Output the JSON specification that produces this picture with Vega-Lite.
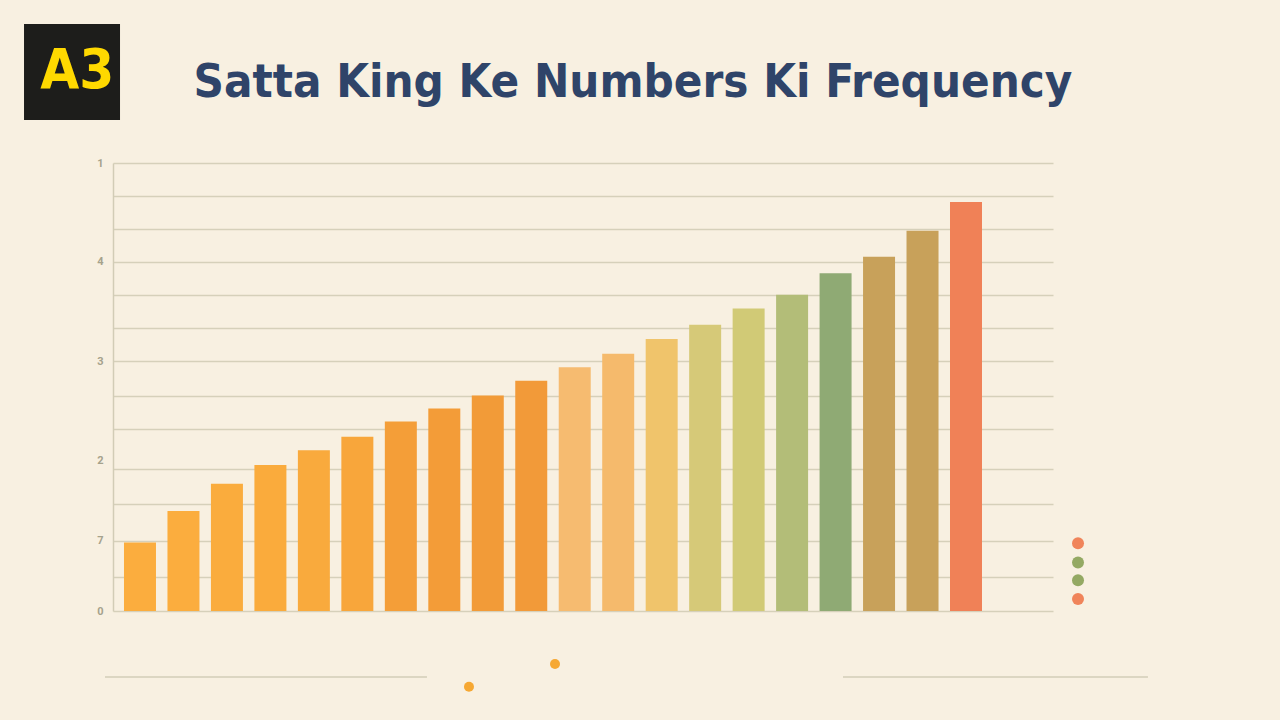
{
  "$schema": "https://vega.github.io/schema/vega-lite/v6.json",
  "width": 940,
  "height": 448,
  "autosize": {"type": "none"},
  "padding": {"left": 113, "top": 163, "right": 227, "bottom": 109},
  "background": "#f8f0e1",
  "config": {"view": {"stroke": null}},
  "title": {
    "text": "Satta King Ke Numbers Ki Frequency",
    "font": "DejaVu Sans Condensed, DejaVu Sans, sans-serif",
    "fontSize": 47,
    "fontWeight": "bold",
    "color": "#2f4469",
    "anchor": "middle",
    "frame": "group",
    "dx": 50,
    "offset": -120,
    "baseline": "alphabetic"
  },
  "datasets": {
    "freq": [
      {"number": "1", "frequency": 15.3},
      {"number": "2", "frequency": 22.3},
      {"number": "3", "frequency": 28.4},
      {"number": "4", "frequency": 32.6},
      {"number": "5", "frequency": 35.9},
      {"number": "6", "frequency": 38.9},
      {"number": "7", "frequency": 42.3},
      {"number": "8", "frequency": 45.2},
      {"number": "9", "frequency": 48.1},
      {"number": "10", "frequency": 51.4},
      {"number": "11", "frequency": 54.4},
      {"number": "12", "frequency": 57.4},
      {"number": "13", "frequency": 60.7},
      {"number": "14", "frequency": 63.9},
      {"number": "15", "frequency": 67.5},
      {"number": "16", "frequency": 70.6},
      {"number": "17", "frequency": 75.4},
      {"number": "18", "frequency": 79.1},
      {"number": "19", "frequency": 84.9},
      {"number": "20", "frequency": 91.3}
    ],
    "one": [{"brand": "A3"}]
  },
  "layer": [
    {
      "data": {"name": "freq"},
      "mark": {"type": "bar"},
      "encoding": {
        "x": {
          "field": "number",
          "type": "nominal",
          "sort": null,
          "scale": {"paddingInner": 0.264, "paddingOuter": 0.943, "align": 0.134, "round": false},
          "axis": {"labels": false, "ticks": false, "title": null, "domain": false}
        },
        "y": {
          "field": "frequency",
          "type": "quantitative",
          "scale": {"domain": [0, 100], "nice": false},
          "axis": {
            "title": null,
            "values": [0, 7.7, 15.7, 23.9, 31.8, 33.7, 40.6, 48.1, 55.8, 63.1, 70.5, 78, 85.3, 92.7, 100],
            "tickCount": 30,
            "grid": true,
            "gridColor": "#d6d0ba",
            "gridWidth": 1.5,
            "gridOpacity": {"condition": {"test": "datum.value == 33.7", "value": 0}, "value": 1},
            "ticks": false,
            "domain": true,
            "domainColor": "#d2ccb6",
            "domainWidth": 1.5,
            "labelExpr": "datum.value == 100 ? '1' : datum.value == 78 ? '4' : datum.value == 55.8 ? '3' : datum.value == 33.7 ? '2' : datum.value == 15.7 ? '7' : datum.value == 0 ? '0' : ''",
            "labelColor": "#a6a28c",
            "labelFont": "Roboto",
            "labelFontWeight": "bold",
            "labelFontSize": 11,
            "labelPadding": 10,
            "labelOverlap": false,
            "labelBound": false,
            "labelFlush": false
          }
        },
        "color": {
          "field": "number",
          "type": "nominal",
          "sort": null,
          "scale": {
            "domain": ["1","2","3","4","5","6","7","8","9","10","11","12","13","14","15","16","17","18","19","20"],
            "range": ["#fbad3e","#fbad3e","#faac3d","#faab3c","#f9aa3d","#f8a63b","#f49e38","#f39c38","#f29b38","#f29a39","#f6bb70","#f5ba6c","#f0c46b","#d6c978","#d1ca76","#b3bd78","#8faa74","#c8a15a","#c8a15a","#f08157"]
          },
          "legend": null
        }
      }
    },
    {
      "data": {"name": "one"},
      "mark": {"type": "point", "shape": "square", "size": 9216, "filled": true, "fill": "#1d1d1b", "opacity": 1, "strokeWidth": 0, "clip": false},
      "encoding": {
        "x": {"datum": -4.36, "type": "quantitative", "scale": {"domain": [0, 100]}, "axis": null},
        "y": {"datum": 120.3, "type": "quantitative"}
      }
    },
    {
      "data": {"name": "one"},
      "mark": {"type": "text", "font": "DejaVu Sans Condensed, DejaVu Sans, sans-serif", "fontWeight": "bold", "fontSize": 56, "fill": "#ffd900", "align": "center", "baseline": "middle", "clip": false},
      "encoding": {
        "x": {"datum": -3.8, "type": "quantitative", "scale": {"domain": [0, 100]}, "axis": null},
        "y": {"datum": 120.5, "type": "quantitative"},
        "text": {"field": "brand"}
      }
    },
    {
      "data": {"name": "one"},
      "mark": {"type": "point", "shape": "circle", "size": 144, "filled": true, "fill": "#f0845a", "opacity": 1, "strokeWidth": 0, "clip": false},
      "encoding": {
        "x": {"datum": 102.66, "type": "quantitative", "scale": {"domain": [0, 100]}, "axis": null},
        "y": {"datum": 15.1, "type": "quantitative"}
      }
    },
    {
      "data": {"name": "one"},
      "mark": {"type": "point", "shape": "circle", "size": 144, "filled": true, "fill": "#94a963", "opacity": 1, "strokeWidth": 0, "clip": false},
      "encoding": {
        "x": {"datum": 102.66, "type": "quantitative", "scale": {"domain": [0, 100]}, "axis": null},
        "y": {"datum": 10.85, "type": "quantitative"}
      }
    },
    {
      "data": {"name": "one"},
      "mark": {"type": "point", "shape": "circle", "size": 144, "filled": true, "fill": "#94a963", "opacity": 1, "strokeWidth": 0, "clip": false},
      "encoding": {
        "x": {"datum": 102.66, "type": "quantitative", "scale": {"domain": [0, 100]}, "axis": null},
        "y": {"datum": 6.85, "type": "quantitative"}
      }
    },
    {
      "data": {"name": "one"},
      "mark": {"type": "point", "shape": "circle", "size": 144, "filled": true, "fill": "#f0845a", "opacity": 1, "strokeWidth": 0, "clip": false},
      "encoding": {
        "x": {"datum": 102.66, "type": "quantitative", "scale": {"domain": [0, 100]}, "axis": null},
        "y": {"datum": 2.7, "type": "quantitative"}
      }
    },
    {
      "data": {"name": "one"},
      "mark": {"type": "point", "shape": "circle", "size": 100, "filled": true, "fill": "#f6a833", "opacity": 1, "strokeWidth": 0, "clip": false},
      "encoding": {
        "x": {"datum": 47.02, "type": "quantitative", "scale": {"domain": [0, 100]}, "axis": null},
        "y": {"datum": -11.83, "type": "quantitative"}
      }
    },
    {
      "data": {"name": "one"},
      "mark": {"type": "point", "shape": "circle", "size": 100, "filled": true, "fill": "#f6a833", "opacity": 1, "strokeWidth": 0, "clip": false},
      "encoding": {
        "x": {"datum": 37.87, "type": "quantitative", "scale": {"domain": [0, 100]}, "axis": null},
        "y": {"datum": -16.9, "type": "quantitative"}
      }
    },
    {
      "data": {"name": "one"},
      "mark": {"type": "rule", "stroke": "#dcd6c2", "strokeWidth": 2, "clip": false},
      "encoding": {
        "x": {"datum": -0.85, "type": "quantitative", "scale": {"domain": [0, 100]}, "axis": null},
        "x2": {"datum": 33.4},
        "y": {"datum": -14.73, "type": "quantitative"}
      }
    },
    {
      "data": {"name": "one"},
      "mark": {"type": "rule", "stroke": "#dcd6c2", "strokeWidth": 2, "clip": false},
      "encoding": {
        "x": {"datum": 77.66, "type": "quantitative", "scale": {"domain": [0, 100]}, "axis": null},
        "x2": {"datum": 110.1},
        "y": {"datum": -14.73, "type": "quantitative"}
      }
    }
  ],
  "resolve": {"scale": {"x": "independent"}}
}
